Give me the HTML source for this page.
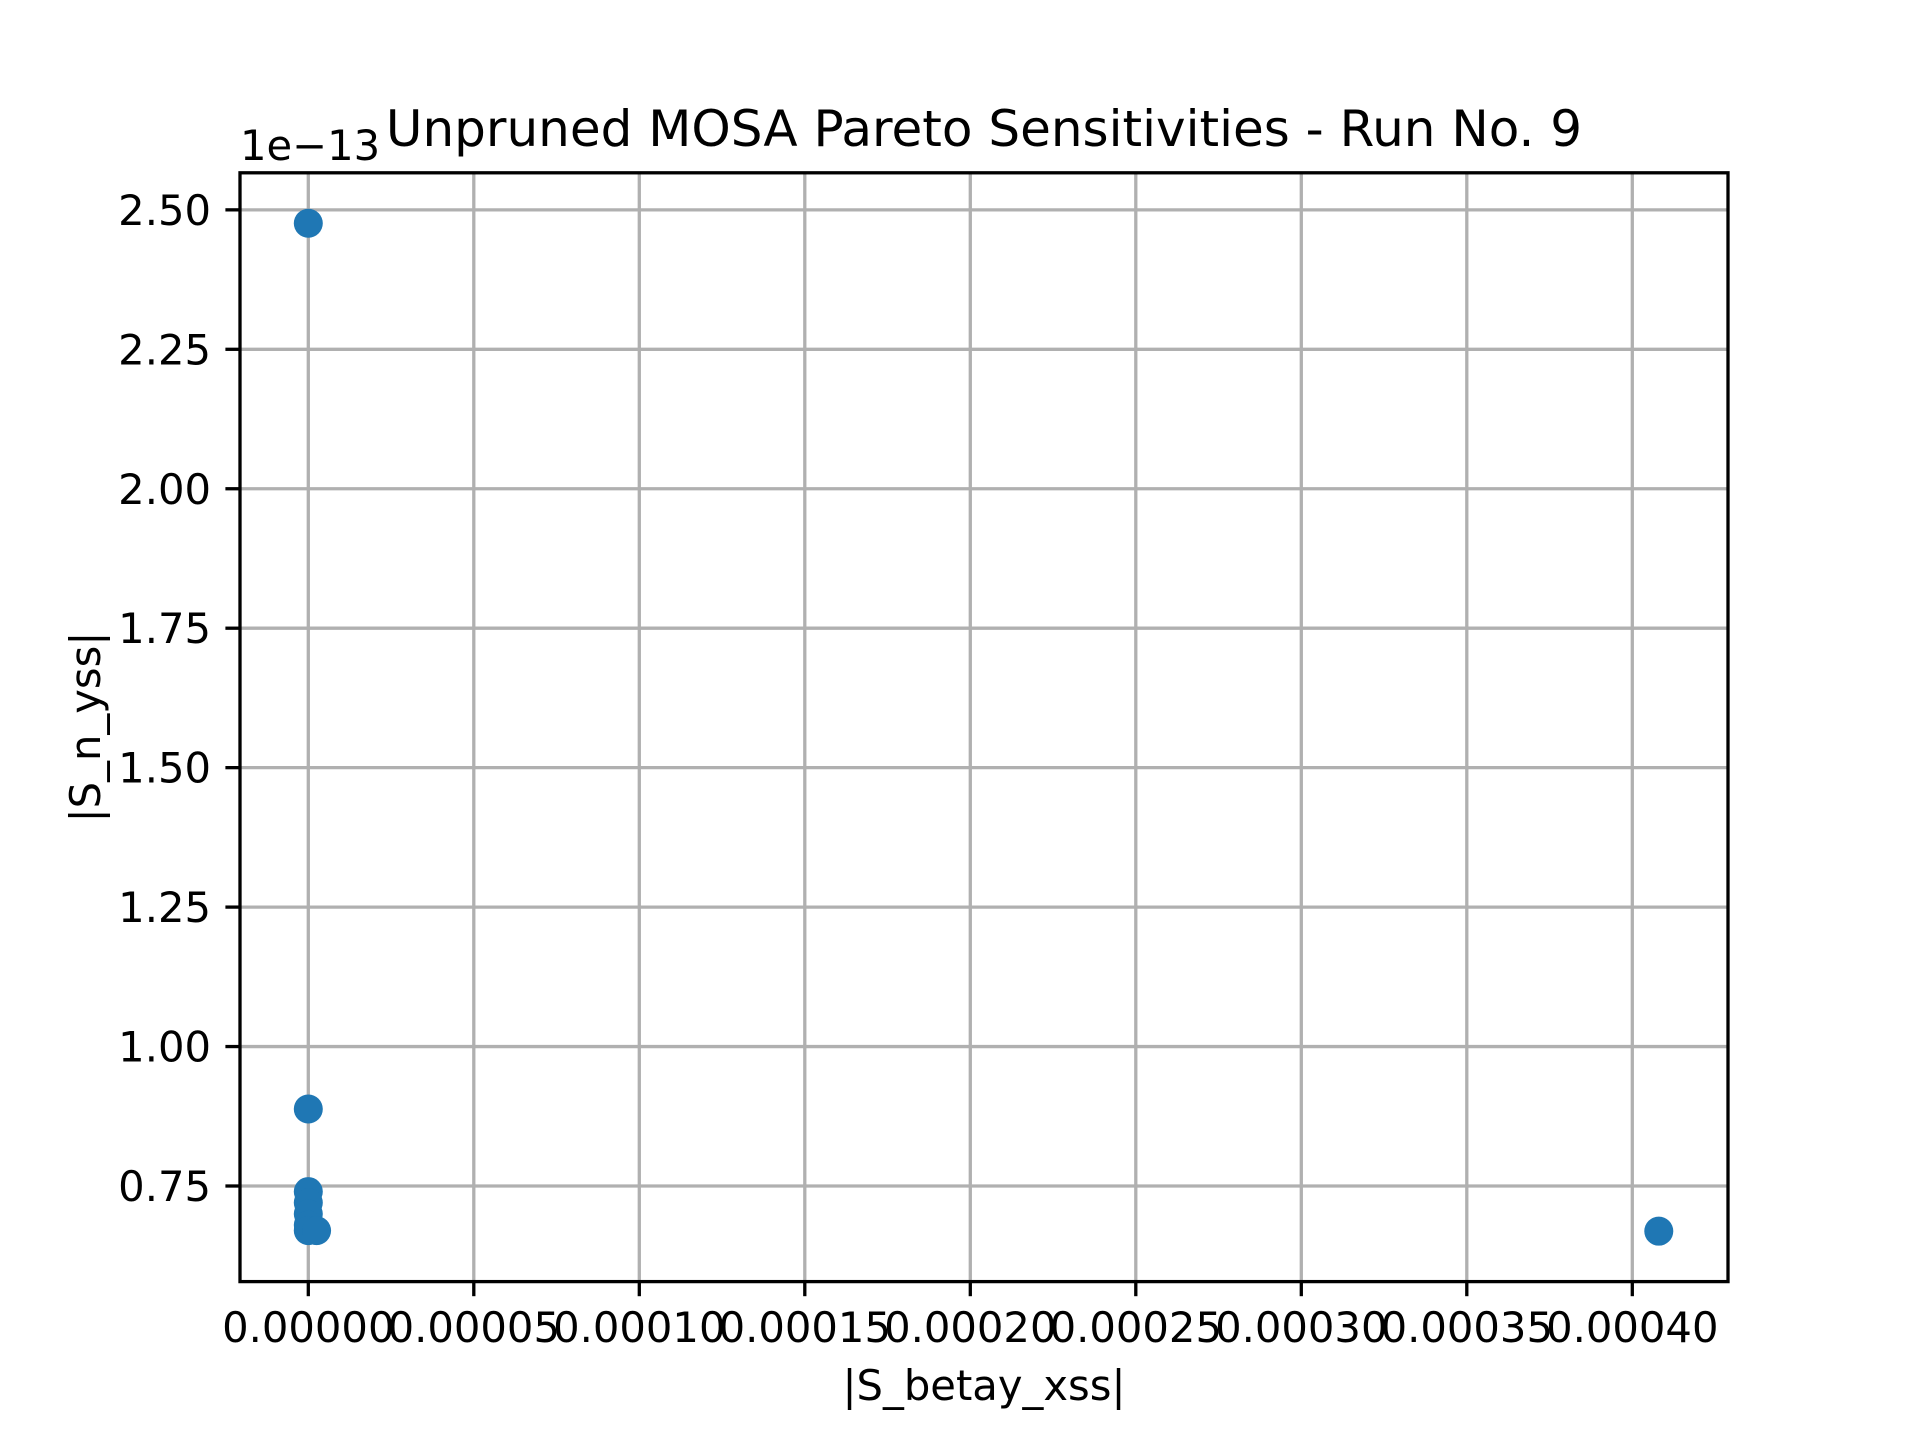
<!DOCTYPE html>
<html><head><meta charset="utf-8"><style>html,body{margin:0;padding:0;background:#fff}svg{display:block}text{font-family:"DejaVu Sans","Liberation Sans",sans-serif;fill:#000}</style></head>
<body>
<svg id="chart" width="1920" height="1440" viewBox="0 0 1920 1440" xmlns="http://www.w3.org/2000/svg">
<rect width="1920" height="1440" fill="#fff"/>
<g id="grid"></g><g id="pts"></g><g id="ticks"></g>
<rect x="240" y="172.8" width="1488" height="1108.8" fill="none" stroke="#000" stroke-width="3.3"/>
<text x="984" y="146" font-size="50" text-anchor="middle">Unpruned MOSA Pareto Sensitivities - Run No. 9</text>
<text x="240" y="160" font-size="41.7">1e−13</text>
<text x="984" y="1400" font-size="41.7" text-anchor="middle">|S_betay_xss|</text>
<text x="0" y="0" font-size="41.7" text-anchor="middle" transform="translate(100,727) rotate(-90)">|S_n_yss|</text>
</svg>
<script>
const xTicks=[0,0.00005,0.0001,0.00015,0.0002,0.00025,0.0003,0.00035,0.0004];
const xTickLabels=["0.00000","0.00005","0.00010","0.00015","0.00020","0.00025","0.00030","0.00035","0.00040"];
const yTicks=[0.75,1.0,1.25,1.5,1.75,2.0,2.25,2.5];
const yTickLabels=["0.75","1.00","1.25","1.50","1.75","2.00","2.25","2.50"];
const xValues=[0,0,0,0,0,0.0000025,0,0,0.000408];
const yValues=[0.74,0.72,0.70,0.68,0.67,0.67,2.476,0.888,0.669];
const NS="http://www.w3.org/2000/svg";
const X=v=>308.3+v*3310000;
const Y=v=>1186-(v-0.75)*557.8;
function mk(tag,attrs,parent,txt){const e=document.createElementNS(NS,tag);for(const k in attrs)e.setAttribute(k,attrs[k]);if(txt!==undefined)e.textContent=txt;document.getElementById(parent).appendChild(e);return e;}
xTicks.forEach((t,i)=>{const x=X(t);
const g=mk('line',{x1:x,x2:x,y1:172.8,y2:1281.6,stroke:'#b0b0b0','stroke-width':3.3},'grid');


const tk=mk('line',{x1:x,x2:x,y1:1281.6,y2:1296.2,stroke:'#000','stroke-width':3.3},'ticks');


const lb=mk('text',{x:x,y:1342,'font-size':41.7,'text-anchor':'middle'},'ticks',xTickLabels[i]);

});
yTicks.forEach((t,i)=>{const y=Y(t);
const g=mk('line',{x1:240,x2:1728,y1:y,y2:y,stroke:'#b0b0b0','stroke-width':3.3},'grid');


const tk=mk('line',{x1:225.4,x2:240,y1:y,y2:y,stroke:'#000','stroke-width':3.3},'ticks');


const lb=mk('text',{x:211,y:y+15,'font-size':41.7,'text-anchor':'end'},'ticks',yTickLabels[i]);

});
xValues.forEach((v,i)=>{const c=mk('circle',{cx:X(v),cy:Y(yValues[i]),r:14.5,fill:'#1f77b4'},'pts');

});
</script>
</body></html>
